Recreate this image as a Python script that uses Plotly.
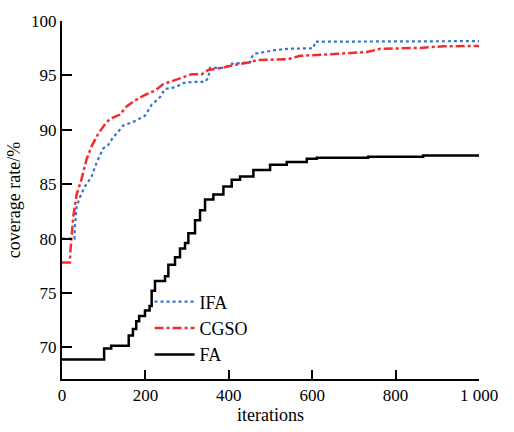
import plotly.graph_objects as go

# IFA (blue dotted)
ifa_x = [0, 30, 31, 35, 43, 55, 71, 83, 99, 111, 123, 131, 147, 175, 199, 215, 235, 247, 271, 291,
         315, 343, 351, 355, 391, 403, 451, 455, 463, 507, 543, 603, 607, 1000]
ifa_y = [80.0, 80.0, 81.1, 82.9, 83.8, 84.8, 85.7, 87.0, 88.3, 88.6, 89.35, 89.65, 90.4, 90.8, 91.3,
         92.3, 93.0, 93.76, 93.9, 94.3, 94.4, 94.4, 94.8, 95.7, 95.7, 96.05, 96.2, 96.7, 97.0, 97.3,
         97.45, 97.5, 98.1, 98.15]

# CGSO (red dash-dot)
cgso_x = [0, 19, 20, 27, 35, 47, 59, 71, 87, 103, 115, 139, 155, 175, 199, 223, 243, 259, 283, 311,
          335, 351, 391, 415, 451, 467, 543, 571, 643, 731, 763, 859, 915, 1000]
cgso_y = [77.8, 77.8, 78.8, 82.0, 84.05, 85.5, 87.3, 88.5, 89.65, 90.5, 91.0, 91.4, 92.15, 92.7,
          93.2, 93.6, 94.2, 94.4, 94.7, 95.1, 95.1, 95.5, 95.76, 95.97, 96.2, 96.4, 96.5, 96.8,
          96.94, 97.15, 97.44, 97.53, 97.68, 97.7]

# FA (black solid, stepped)
fa_x = [0, 101, 118, 160, 170, 178, 185, 199, 210, 215, 223, 247, 255, 271, 283, 295, 303, 319, 331,
        343, 363, 387, 407, 427, 459, 499, 539, 587, 611, 734, 866, 1000]
fa_y = [68.9, 69.9, 70.15, 71.1, 71.7, 72.4, 72.9, 73.4, 73.8, 75.2, 76.1, 76.55, 77.6, 78.3, 79.1,
        79.6, 80.5, 81.7, 82.6, 83.6, 84.05, 84.8, 85.4, 85.7, 86.3, 86.8, 87.05, 87.35, 87.44,
        87.53, 87.65, 87.7]

x_ticks = [0, 200, 400, 600, 800, 1000]
x_tick_labels = ["0", "200", "400", "600", "800", "1 000"]
y_ticks = [70, 75, 80, 85, 90, 95, 100]

FONT = "Liberation Serif, Times New Roman, serif"

fig = go.Figure()
fig.add_trace(go.Scatter(x=ifa_x, y=ifa_y, mode="lines", name="IFA",
                         line=dict(color="#3574d0", width=2.2, dash="dot")))
fig.add_trace(go.Scatter(x=cgso_x, y=cgso_y, mode="lines", name="CGSO",
                         line=dict(color="#f52a2a", width=2.5, dash="dashdot")))
fig.add_trace(go.Scatter(x=fa_x, y=fa_y, mode="lines", name="FA", line_shape="hv",
                         line=dict(color="black", width=2.5)))

fig.update_layout(
    width=514, height=432,
    margin=dict(l=62, r=35, t=16, b=43),
    paper_bgcolor="white", plot_bgcolor="white",
    font=dict(family=FONT, size=17, color="black"),
    showlegend=True,
    legend=dict(x=0.21, y=0.267, xanchor="left", yanchor="top", itemwidth=40,
                bgcolor="rgba(0,0,0,0)", font=dict(size=18), tracegroupgap=0),
    xaxis=dict(range=[0, 1000], tickvals=x_ticks, ticktext=x_tick_labels,
               ticks="inside", ticklen=9, tickwidth=2, tickcolor="black",
               showline=True, linecolor="black", linewidth=2, showgrid=False, zeroline=False,
               title=dict(text="iterations", standoff=2, font=dict(size=18))),
    yaxis=dict(range=[67.1, 100], tickvals=y_ticks,
               ticks="inside", ticklen=10, tickwidth=2, tickcolor="black",
               showline=True, linecolor="black", linewidth=2, showgrid=False, zeroline=False,
               title=dict(text="coverage rate/%", standoff=6, font=dict(size=18))),
)

fig.write_html("out.html")
